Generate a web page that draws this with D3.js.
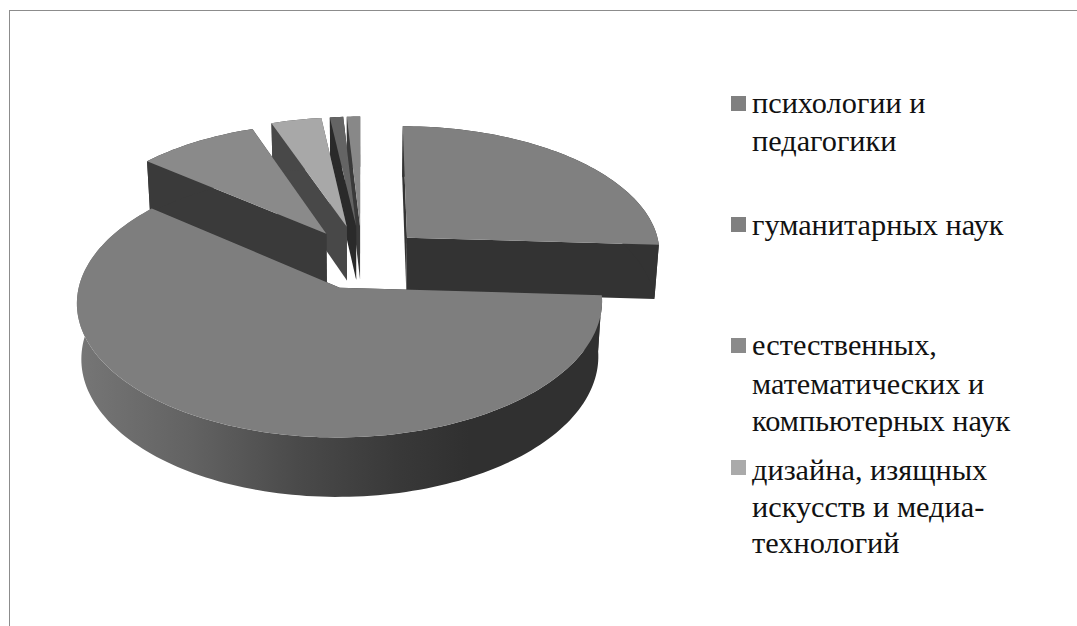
<!DOCTYPE html>
<html><head><meta charset="utf-8">
<script src="https://cdn.jsdelivr.net/npm/d3@7"></script>
<style>html,body{margin:0;padding:0;background:#fff}svg{display:block}</style>
</head><body><div id="c"></div>
<script>
// --- data ---
const sliceValues = [25.9, 60.0, 8.6, 3.6, 0.95, 0.95];
const legendLabels = [
  ["психологии и", "педагогики"],
  ["гуманитарных наук"],
  ["естественных,", "математических и", "компьютерных наук"],
  ["дизайна, изящных", "искусств и медиа-", "технологий"]
];
// --- styling ---
const topColors  = ["#808080", "#7e7e7e", "#8a8a8a", "#a8a8a8", "#646464", "#888888"];
const wallColors = ["#333333", "#333333", "#3a3a3a", "#484848", "#2a2a2a", "#3a3a3a"];
const legendColors = ["#808080", "#808080", "#8a8a8a", "#aaaaaa"];
const explode = [63, 60, 63, 68, 68, 68];
const legendSquareY = [96, 217, 338, 460];
const legendBaselines = [[113, 151], [235], [355, 394, 431], [480, 517, 553]];

const W = 1077, H = 626;
const svg = d3.select("#c").append("svg").attr("width", W).attr("height", H);
svg.append("line").attr("x1", 9.5).attr("x2", W).attr("y1", 10.5).attr("y2", 10.5).attr("stroke", "#8c8c8c");
svg.append("line").attr("x1", 9.5).attr("x2", 9.5).attr("y1", 10).attr("y2", H).attr("stroke", "#8c8c8c");

// perspective camera
const cx = 362, cy = 259, R = 255, HT = 64, sinT = 0.50, cosT = 0.866, D = 2090;
const project = (x, y, z) => {
  const s = D / (D + y * cosT - z * sinT);
  return [cx + s * x, cy - s * (y * sinT + z * cosT)];
};
const pie = d3.pie().sort(null).value(d => d);
const arcs = pie(sliceValues);
const line = d3.line();

const defs = svg.append("defs");
const g = defs.append("linearGradient").attr("id", "wall").attr("gradientUnits", "userSpaceOnUse")
  .attr("x1", 78).attr("x2", 600).attr("y1", 0).attr("y2", 0);
[[0, "#767676"], [0.22, "#626262"], [0.42, "#4a4a4a"], [0.62, "#383838"], [0.75, "#303030"], [1, "#303030"]]
  .forEach(([o, c]) => g.append("stop").attr("offset", o).attr("stop-color", c));

function slicePaths(a, i) {
  const mid = (a.startAngle + a.endAngle) / 2;
  const ox = explode[i] * Math.sin(mid), oy = explode[i] * Math.cos(mid);
  const P = (r, t, z) => project(ox + r * Math.sin(t), oy + r * Math.cos(t), z);
  const n = Math.max(4, Math.ceil((a.endAngle - a.startAngle) * 40));
  const ang = d3.range(n + 1).map(k => a.startAngle + (a.endAngle - a.startAngle) * k / n);
  const top = [P(0, 0, 0), ...ang.map(t => P(R, t, 0))];
  const outer = [...ang.map(t => P(R, t, 0)), ...ang.slice().reverse().map(t => P(R, t, -HT))];
  const cut = t => [P(0, 0, 0), P(R, t, 0), P(R, t, -HT), P(0, 0, -HT)];
  return { top, outer, cutA: cut(a.startAngle), cutB: cut(a.endAngle) };
}

const order = [0, 5, 4, 3, 2, 1];
const pieG = svg.append("g");
order.forEach(i => {
  const p = slicePaths(arcs[i], i);
  const s = pieG.append("g");
  const wall = wallColors[i];
  s.append("path").attr("d", line(p.cutB) + "Z").attr("fill", wall);
  s.append("path").attr("d", line(p.cutA) + "Z").attr("fill", wall);
  s.append("path").attr("d", line(p.outer) + "Z").attr("fill", i === 1 ? "url(#wall)" : wall);
  s.append("path").attr("d", line(p.top) + "Z").attr("fill", topColors[i]);
});

const leg = svg.selectAll("g.leg").data(legendLabels).join("g").attr("class", "leg");
leg.append("rect").attr("x", 731).attr("width", 15).attr("height", 15)
  .attr("y", (d, i) => legendSquareY[i]).attr("fill", (d, i) => legendColors[i]);
leg.each(function (lines, i) {
  d3.select(this).selectAll("text").data(lines).join("text")
    .attr("x", 752).attr("y", (d, k) => legendBaselines[i][k])
    .attr("font-family", "'Liberation Serif', serif").attr("font-size", 30.3).attr("fill", "#111")
    .text(d => d);
});
</script></body></html>
